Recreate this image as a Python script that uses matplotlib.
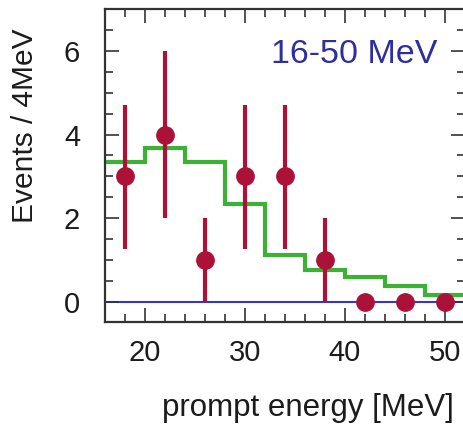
import matplotlib
matplotlib.use("Agg")
import matplotlib.pyplot as plt
import numpy as np
from matplotlib.ticker import MultipleLocator

plt.rcParams['font.family'] = ['Liberation Sans', 'DejaVu Sans']

# Observed events per 4 MeV bin
energy = [18, 22, 26, 30, 34, 38, 42, 46, 50]
events = [3, 4, 1, 3, 3, 1, 0, 0, 0]
err_low = [1.74, 2.0, 1.0, 1.74, 1.74, 1.0, 0, 0, 0]
err_high = [1.71, 2.0, 1.0, 1.71, 1.71, 1.0, 0, 0, 0]

# Expected spectrum (histogram)
bin_edges = [16, 20, 24, 28, 32, 36, 40, 44, 48, 52]
expected = [3.34, 3.69, 3.34, 2.33, 1.12, 0.76, 0.58, 0.38, 0.16]

red = '#AC1238'
green = '#3DB036'
blue = '#2E2E9E'
ink = '#1c1c1c'

fig = plt.figure(figsize=(4.63, 4.26), dpi=100)
ax = fig.add_axes([0.227, 0.243, 0.777, 0.735])

ax.axhline(0, color='#3636C8', lw=1.5, zorder=1)
ax.stairs(expected, bin_edges, baseline=None, color=green, lw=3.0, zorder=2)

e = np.array(energy)
v = np.array(events)
has_err = (np.array(err_low) + np.array(err_high)) > 0
ax.errorbar(e[has_err], v[has_err],
            yerr=[np.array(err_low)[has_err], np.array(err_high)[has_err]],
            fmt='none', ecolor=red, elinewidth=3.0, capsize=0, zorder=3)
ax.plot(e, v, 'o', color=red, ms=12.5, zorder=4)

ax.set_xlim(16, 52)
ax.set_ylim(-0.5, 7)
ax.xaxis.set_major_locator(MultipleLocator(10))
ax.xaxis.set_minor_locator(MultipleLocator(2))
ax.yaxis.set_major_locator(MultipleLocator(2))
ax.yaxis.set_minor_locator(MultipleLocator(0.5))
ax.tick_params(which='both', direction='in', top=True, right=True,
               width=1.2, colors='#333333', labelcolor=ink)
ax.tick_params(which='major', length=10, labelsize=21)
ax.tick_params(which='minor', length=5.5)
ax.tick_params(axis='x', pad=12)
ax.tick_params(axis='y', pad=18)
for s in ax.spines.values():
    s.set_linewidth(1.6)
    s.set_color('#333333')

ax.text(0.925, 0.828, '16-50 MeV', transform=ax.transAxes, color=blue,
        fontsize=24.5, ha='right', va='baseline')

fig.text(0.665, 0.042, 'prompt energy [MeV]', fontsize=22.5, ha='center',
         va='center', color=ink)
fig.text(0.054, 0.705, 'Events / 4MeV', fontsize=21.5, ha='center',
         va='center', rotation=90, color=ink)

fig.savefig('out.png', dpi=100)
